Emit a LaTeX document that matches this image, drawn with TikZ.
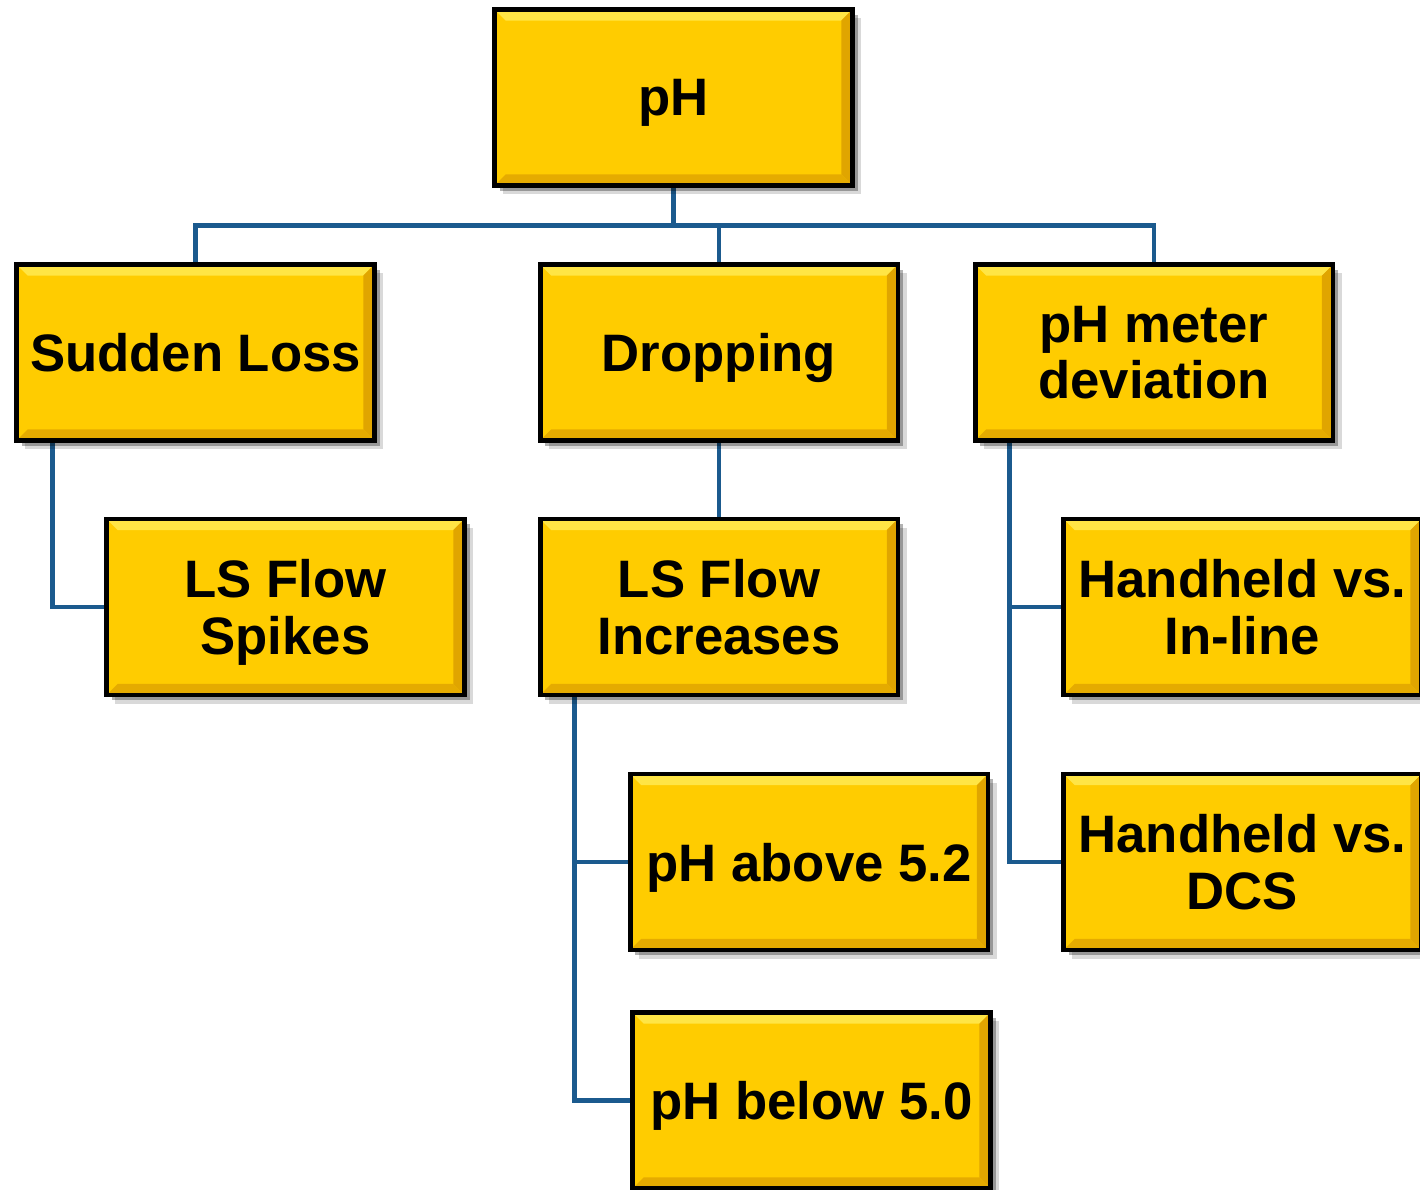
\documentclass[tikz,border=0pt]{standalone}
\usepackage{fontspec}
\setmainfont{Liberation Sans}
\usetikzlibrary{calc, shadows, backgrounds}
\definecolor{gold}    {HTML}{FFCC00}
\definecolor{goldhi}  {HTML}{FFE545}
\definecolor{goldlo}  {HTML}{E0A500}
\definecolor{linkblue}{HTML}{1B5A8E}
\tikzset{
  bevel/.style  = {path picture={
      \fill[goldhi] (path picture bounding box.north west)
        -- (path picture bounding box.north east)
        -- ([shift={(-0.22cm,-0.22cm)}]path picture bounding box.north east)
        -- ([shift={(0.22cm,-0.22cm)}]path picture bounding box.north west) -- cycle;
      \fill[goldlo] (path picture bounding box.north east)
        -- (path picture bounding box.south east)
        -- ([shift={(-0.22cm,0.22cm)}]path picture bounding box.south east)
        -- ([shift={(-0.22cm,-0.22cm)}]path picture bounding box.north east) -- cycle;
      \fill[goldlo!85!gold] (path picture bounding box.south west)
        -- (path picture bounding box.south east)
        -- ([shift={(-0.22cm,0.22cm)}]path picture bounding box.south east)
        -- ([shift={(0.22cm,0.22cm)}]path picture bounding box.south west) -- cycle;
    }},
  box/.style    = {draw=black, line width=2.8pt, fill=gold, bevel,
                   minimum width=7.16cm, minimum height=3.52cm,
                   inner sep=0pt, align=center, text depth=0pt,
                   font=\bfseries\fontsize{30}{32}\selectfont,
                   drop shadow={shadow xshift=5pt, shadow yshift=-5pt,
                                opacity=.15, fill=black},
                   drop shadow={shadow xshift=3pt, shadow yshift=-3pt,
                                opacity=.3, fill=black}},
  link/.style   = {draw=linkblue, line width=2.8pt},
}

\begin{document}
\begin{tikzpicture}[x=0.02cm, y=-0.02cm]
  \clip (0,0) rectangle (1420,1190);

  \node[box] (root)   at (673.5,  97.5) {pH};
  \node[box] (sudden) at (195.5, 352.5) {Sudden Loss};
  \node[box] (drop)   at (719,   352.5) {Dropping};
  \node[box] (meter)  at (1154,  352.5) {pH meter\\deviation};
  \node[box] (spikes) at (285.5, 607)   {LS Flow\\Spikes};
  \node[box] (incr)   at (719,   607)   {LS Flow\\Increases};
  \node[box] (inline) at (1242.5,607)   {Handheld vs.\\In-line};
  \node[box] (above)  at (809,   862)   {pH above 5.2};
  \node[box] (dcs)    at (1242.5,862)   {Handheld vs.\\DCS};
  \node[box] (below)  at (811.5,1100.5) {pH below 5.0};

  \begin{scope}[on background layer]
    \draw[link] (root.south) -- ++(0,38) coordinate (bus);
    \draw[link] (sudden.north) |- (bus) -| (meter.north);
    \draw[link] (drop.north) -- (drop.north |- bus);
    \draw[link] ([xshift=0.76cm]sudden.south west) |- (spikes.west);
    \draw[link] (drop) -- (incr);
    \foreach \kid in {above, below}
      \draw[link] ([xshift=0.74cm]incr.south west) |- (\kid.west);
    \foreach \kid in {inline, dcs}
      \draw[link] ([xshift=0.74cm]meter.south west) |- (\kid.west);
  \end{scope}

\end{tikzpicture}
\end{document}
